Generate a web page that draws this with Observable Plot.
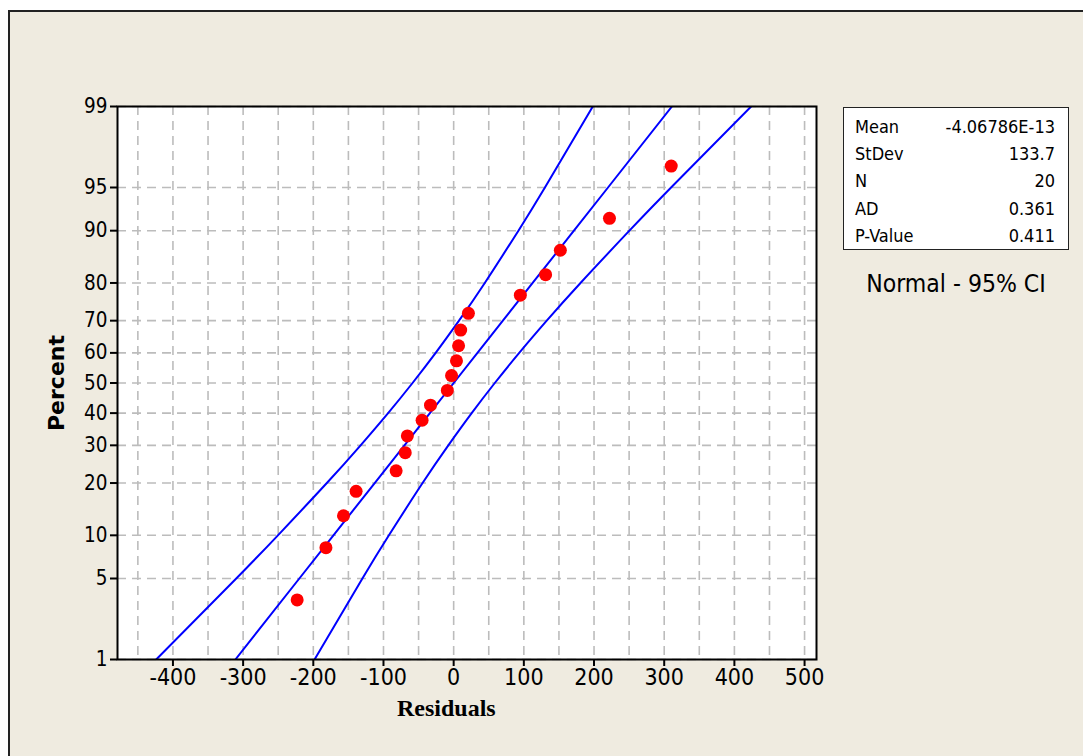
<!DOCTYPE html>
<html><head><meta charset="utf-8">
<script src="https://cdn.jsdelivr.net/npm/d3@7"></script>
<script src="https://cdn.jsdelivr.net/npm/@observablehq/plot@0.6"></script>
<style>
html,body{margin:0;padding:0;background:#fff;}
#wrap{position:relative;width:1083px;height:756px;overflow:hidden;font-family:"DejaVu Sans Condensed","DejaVu Sans",sans-serif;}
#bg{position:absolute;left:8px;top:10px;width:1200px;height:900px;background:#EFEBE0;border:2px solid #222;box-sizing:border-box;}
#chart{position:absolute;left:0;top:0;}
#xlabel{position:absolute;left:397px;top:695px;font:bold 24px "Liberation Serif","Times New Roman",serif;color:#000;}
#ylabel{position:absolute;left:56px;top:383px;transform:translate(-50%,-50%) rotate(-90deg);font:bold 22px "DejaVu Sans",sans-serif;color:#000;white-space:nowrap;}
#stats{position:absolute;left:843px;top:107px;width:226px;height:143px;background:#fff;border:1.5px solid #222;box-sizing:border-box;font-size:18px;color:#000;}
#stats .row{position:absolute;left:11px;right:13px;height:27px;line-height:27px;}
#stats .row span.v{position:absolute;right:0;}
#dist{position:absolute;left:956px;top:283px;transform:translate(-50%,-50%);font-size:24.5px;color:#000;white-space:nowrap;}
#chart svg{overflow:visible;}
#chart svg g[aria-label="x-axis tick label"]{font-size:23px !important;}
#chart svg g[aria-label="y-axis tick label"]{font-size:20.5px !important;}
#chart svg g[aria-label="x-axis tick label"] text,
#chart svg g[aria-label="y-axis tick label"] text{font-size:inherit !important;}
</style>
</head><body>
<div id="wrap">
<div id="bg"></div>
<div id="chart"></div>
<div id="xlabel">Residuals</div>
<div id="ylabel">Percent</div>
<div id="stats"></div>
<div id="dist">Normal - 95% CI</div>
</div>
<script>
// ---- data ----
const residuals = [-223, -182, -157, -139, -82, -69, -66, -45, -33, -9, -3, 4, 7, 10, 21, 95, 131, 152, 222, 310];
const percents  = [3.4, 8.3, 13.2, 18.1, 23.0, 27.9, 32.8, 37.7, 42.6, 47.5, 52.5, 57.4, 62.3, 67.2, 72.1, 77.0, 81.9, 86.8, 91.7, 96.6];
const percentTicks = [1, 5, 10, 20, 30, 40, 50, 60, 70, 80, 90, 95, 99];
const xTicks = [-400, -300, -200, -100, 0, 100, 200, 300, 400, 500];
const xGrid = [-450, -400, -350, -300, -250, -200, -150, -100, -50, 0, 50, 100, 150, 200, 250, 300, 350, 400, 450, 500];
const statLabels = ["Mean", "StDev", "N", "AD", "P-Value"];
const statValues = ["-4.06786E-13", "133.7", "20", "0.361", "0.411"];
const mean = -4.06786e-13, stdev = 133.7, n = 20;

// inverse standard normal CDF (Acklam)
function qnorm(p){
  const a=[-3.969683028665376e+01,2.209460984245205e+02,-2.759285104469687e+02,1.383577518672690e+02,-3.066479806614716e+01,2.506628277459239e+00];
  const b=[-5.447609879822406e+01,1.615858368580409e+02,-1.556989798598866e+02,6.680131188771972e+01,-1.328068155288572e+01];
  const c=[-7.784894002430293e-03,-3.223964580411365e-01,-2.400758277161838e+00,-2.549732539343734e+00,4.374664141464968e+00,2.938163982698783e+00];
  const d=[7.784695709041462e-03,3.224671290700398e-01,2.445134137142996e+00,3.754408661907416e+00];
  const pl=0.02425, ph=1-pl; let q, r;
  if(p<pl){q=Math.sqrt(-2*Math.log(p));return (((((c[0]*q+c[1])*q+c[2])*q+c[3])*q+c[4])*q+c[5])/((((d[0]*q+d[1])*q+d[2])*q+d[3])*q+1);}
  if(p<=ph){q=p-0.5;r=q*q;return (((((a[0]*r+a[1])*r+a[2])*r+a[3])*r+a[4])*r+a[5])*q/(((((b[0]*r+b[1])*r+b[2])*r+b[3])*r+b[4])*r+1);}
  q=Math.sqrt(-2*Math.log(1-p));return -(((((c[0]*q+c[1])*q+c[2])*q+c[3])*q+c[4])*q+c[5])/((((d[0]*q+d[1])*q+d[2])*q+d[3])*q+1);
}

const points = residuals.map((r, i) => ({x: r, z: qnorm(percents[i] / 100)}));
const zTicks = percentTicks.map(p => qnorm(p / 100));
// fitted normal line and 95% CI from the shown Mean / StDev / N
const fit = percentTicks.map(p => {
  const z = qnorm(p / 100);
  const xf = mean + stdev * z;
  const h = 1.96 * stdev * Math.sqrt((1 + z * z / 2) / n);
  return {z, fit: xf, lo: xf - h, hi: xf + h};
});

const blue = "#0000FF";
const chart = Plot.plot({
  width: 1083, height: 756,
  marginLeft: 117, marginRight: 267, marginTop: 106, marginBottom: 97,
  style: {background: "transparent", fontFamily: '"DejaVu Sans Condensed","DejaVu Sans",sans-serif', color: "#000"},
  x: {domain: [-479, 517]},
  y: {domain: [qnorm(0.01), qnorm(0.99)]},
  marks: [
    Plot.frame({fill: "white"}),
    Plot.ruleX(xGrid, {stroke: "#bcbcbc", strokeWidth: 1.6, strokeDasharray: "9,6"}),
    Plot.ruleY(zTicks, {stroke: "#bcbcbc", strokeWidth: 1.6, strokeDasharray: "9,6"}),
    Plot.line(fit, {x: "lo", y: "z", stroke: blue, strokeWidth: 2, curve: "natural", clip: true}),
    Plot.line(fit, {x: "fit", y: "z", stroke: blue, strokeWidth: 2, clip: true}),
    Plot.line(fit, {x: "hi", y: "z", stroke: blue, strokeWidth: 2, curve: "natural", clip: true}),
    Plot.dot(points, {x: "x", y: "z", r: 6.5, fill: "#FF0000", stroke: "none"}),
    Plot.frame({stroke: "#000", strokeWidth: 2}),
    Plot.axisX({ticks: xTicks, tickSize: 7, tickPadding: 2, fontSize: 23, strokeWidth: 2, label: null, tickFormat: d => String(d)}),
    Plot.axisY({ticks: zTicks, tickSize: 7, tickPadding: 3, fontSize: 20.5, strokeWidth: 2, label: null,
      tickFormat: d => String(percentTicks[zTicks.findIndex(t => Math.abs(t - d) < 1e-9)])})
  ]
});
document.getElementById("chart").appendChild(chart);

const stats = document.getElementById("stats");
statLabels.forEach((lab, i) => {
  const row = document.createElement("div");
  row.className = "row";
  row.style.top = (5 + i * 27.2) + "px";
  row.innerHTML = `<span>${lab}</span><span class="v">${statValues[i]}</span>`;
  stats.appendChild(row);
});
</script>
</body></html>
